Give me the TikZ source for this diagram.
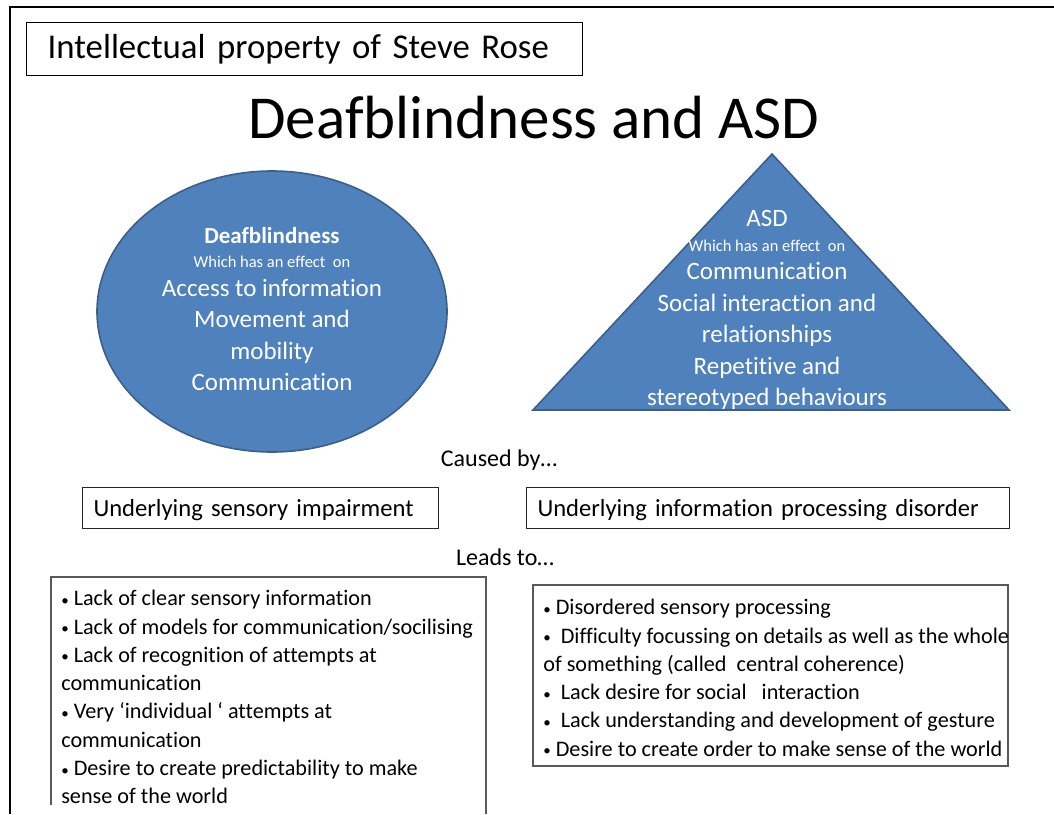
\documentclass[tikz,border=0pt]{standalone}
\usepackage{fontspec}
\setmainfont{Carlito}[Ligatures=NoCommon]
\usetikzlibrary{shapes.geometric,positioning}

\definecolor{dbblue}{HTML}{4F81BD}
\definecolor{dbedge}{HTML}{3A5F8C}
\newcommand{\fsz}[2]{\fontsize{#1}{#2}\selectfont}
\newcommand{\blt}{{\fsz{15}{15}\raisebox{0.5pt}{•}}}

\begin{document}
\begin{tikzpicture}[x=1pt,y=-1pt,semithick]
        \tikzstyle{every node}=[inner sep=0pt]
        \tikzstyle{blob}=[fill=dbblue,draw=dbedge,line width=1.6pt]
        \tikzstyle{blobtext}=[text=white,align=center,anchor=north,font=\fsz{25}{31.5}]
        \tikzstyle{causebox}=[draw=black!85,line width=1pt,minimum height=41pt,text width=334pt,inner xsep=11pt,text height=21pt,text depth=3pt,align=left,anchor=west,font=\fsz{24.6}{28}]
        \tikzstyle{bullets}=[align=left,anchor=north west,font=\fsz{22.2}{28.3}]
        \useasboundingbox (0,0) rectangle (1054,814);
        \draw[line width=2pt] (10,814) |- (1054,7);
        \node[draw,line width=1.4pt,text width=514pt,inner xsep=21pt,minimum height=53pt,align=left,anchor=north west,font=\fsz{34.8}{40}] (owner) at (26,22) {\mbox{Intellectual property of Steve Rose}};
        \node[font=\fsz{61}{70}] (title) at (534,118) {Deafblindness and ASD};
        % the two conditions
        \node[blob,ellipse,minimum width=350pt,minimum height=281pt] (db) at (272,311.5) {};
        \node[blobtext] (dbtext) at (272,227) {{\bfseries\fsz{23}{28}Deafblindness}\\[-7pt]
            {\fsz{16.5}{20}Which has an effect~ on}\\[-3pt]
            Access to information\\ Movement and\\ mobility\\ Communication};
        \coordinate (apex) at (772,154);
        \coordinate (baseL) at (533,410);
        \coordinate (baseR) at (1009,410);
        \draw[blob] (apex) -- (baseR) -- (baseL) -- cycle;
        \node[blobtext] (asdtext) at (767,210) {ASD\\[-7pt]
            {\fsz{16.5}{20}Which has an effect~ on}\\[-3pt]
            Communication\\ Social interaction and\\ relationships\\ Repetitive and\\ stereotyped behaviours};
        % causes
        \node[font=\fsz{24}{28}] (caused) at (499,460) {Caused by…};
        \node[causebox] (sensory) at (82,507.5) {\mbox{Underlying sensory impairment}};
        \node[causebox,text width=461pt,right=87pt of sensory] (processing) {\mbox{Underlying information processing disorder}};
        \node[font=\fsz{24}{28}] (leads) at (505,557) {Leads to…};
        % consequences
        \draw[black!65,line width=1.2pt] (51,805) |- (486,577) -- (486,814);
        \node[bullets] (dbeffects) at (61,590) {\blt{} Lack of clear sensory information\\
            \blt{} Lack of models for communication/socilising\\
            \blt{} Lack of recognition of attempts at\\
            communication\\
            \blt{} Very ‘individual ‘ attempts at\\
            communication\\
            \blt{} Desire to create predictability to make\\
            sense of the world};
        \draw[black!65,line width=1.2pt] (533,585) rectangle (1008,766);
        \node[bullets] (asdeffects) at (543,599) {\blt{} Disordered sensory processing\\
            \blt~ Difficulty focussing on details as well as the whole\\
            of something (called~ central coherence)\\
            \blt~ Lack desire for social~~ interaction\\
            \blt~ Lack understanding and development of gesture\\
            \blt{} Desire to create order to make sense of the world};
\end{tikzpicture}
\end{document}
